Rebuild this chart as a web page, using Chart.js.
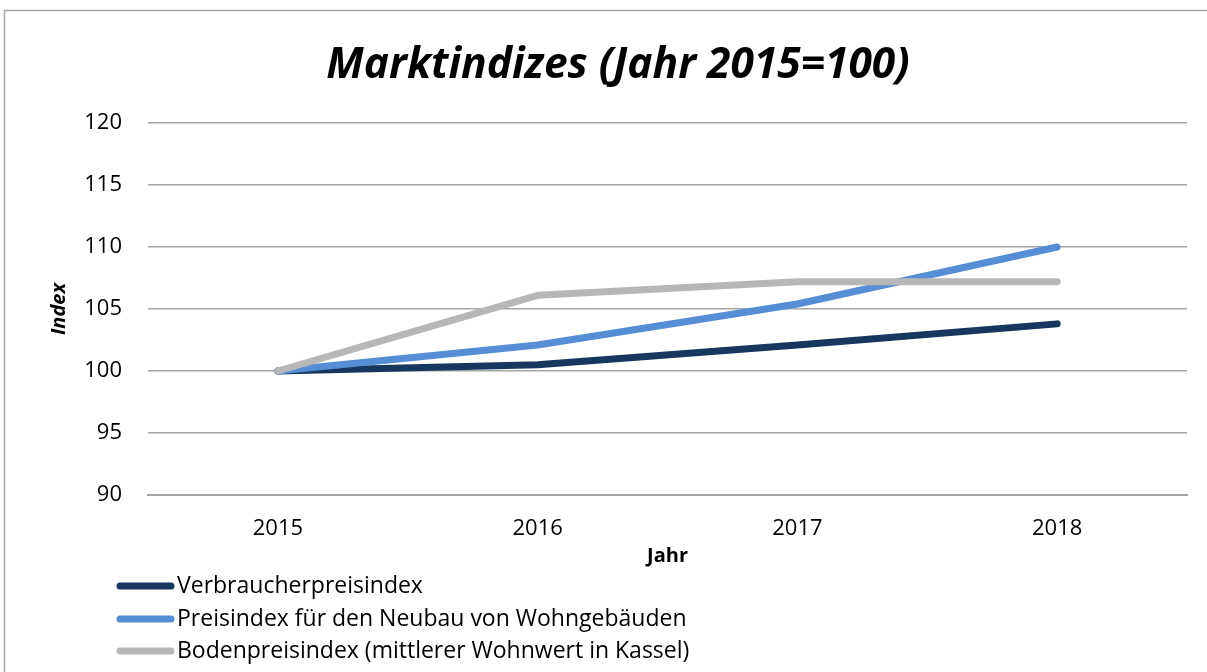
<!DOCTYPE html>
<html>
<head>
<meta charset="utf-8">
<script src="https://cdn.jsdelivr.net/npm/chart.js@4.4.0/dist/chart.umd.min.js"></script>
<style>
  html, body { margin: 0; padding: 0; background: #fff; overflow: hidden; }
  #wrap { position: relative; width: 1207px; height: 672px; }
</style>
</head>
<body>
<div id="wrap"><canvas id="c" width="1207" height="672"></canvas></div>
<script>
const categories = ['2015', '2016', '2017', '2018'];
const seriesNames = [
  'Verbraucherpreisindex',
  'Preisindex für den Neubau von Wohngebäuden',
  'Bodenpreisindex (mittlerer Wohnwert in Kassel)'
];
const verbraucher = [100, 100.5, 102.1, 103.8];
const neubau = [100, 102.1, 105.4, 110.0];
const boden = [100, 106.1, 107.2, 107.2];
const yTicks = [90, 95, 100, 105, 110, 115, 120];
const colors = ['#17375e', '#558ed5', '#b7b7b7'];

const FONT = "'Open Sans', 'Liberation Sans', sans-serif";

const frame = {
  id: 'frame',
  beforeDraw(chart) {
    const ctx = chart.ctx;
    ctx.save();
    ctx.fillStyle = '#fff';
    ctx.fillRect(0, 0, chart.width, chart.height);
    ctx.strokeStyle = '#a6a6a6';
    ctx.lineWidth = 1.5;
    ctx.beginPath();
    ctx.moveTo(4.5, 700);
    ctx.lineTo(4.5, 10.5);
    ctx.lineTo(1210, 10.5);
    ctx.stroke();
    ctx.restore();
  }
};

const rowLegend = {
  id: 'rowLegend',
  afterDraw(chart) {
    const ctx = chart.ctx;
    ctx.save();
    const rows = [586, 619, 651];
    const items = chart.data.datasets.slice().sort((a, b) => a.seriesIndex - b.seriesIndex);
    items.forEach((ds, i) => {
      const y = rows[i];
      ctx.strokeStyle = ds.borderColor;
      ctx.lineWidth = 7;
      ctx.lineCap = 'round';
      ctx.beginPath();
      ctx.moveTo(120, y);
      ctx.lineTo(171, y);
      ctx.stroke();
      ctx.fillStyle = '#000';
      ctx.font = '23px ' + FONT;
      ctx.textBaseline = 'middle';
      ctx.textAlign = 'left';
      ctx.fillText(ds.label, 177, y);
    });
    ctx.restore();
  }
};

const series = [verbraucher, neubau, boden];
const datasets = series.map((vals, i) => ({
  label: seriesNames[i], data: vals, seriesIndex: i,
  borderColor: colors[i], backgroundColor: colors[i],
  borderWidth: 7, pointRadius: 0, pointHoverRadius: 0, tension: 0,
  borderCapStyle: 'round', borderJoinStyle: 'round', fill: false
})).reverse();

new Chart(document.getElementById('c'), {
  type: 'line',
  data: { labels: categories, datasets },
  options: {
    responsive: false,
    animation: false,
    layout: { padding: { left: 49, right: 20, top: 0, bottom: 97 } },
    plugins: {
      legend: { display: false },
      tooltip: { enabled: false },
      title: {
        display: true,
        text: 'Marktindizes (Jahr 2015=100)',
        color: '#000',
        font: { family: FONT, size: 42.5, weight: 'bold', style: 'italic', lineHeight: 1.2 },
        padding: { top: 40, bottom: 32 }
      }
    },
    scales: {
      x: {
        offset: true,
        grid: { display: false, drawTicks: false },
        border: { display: true, color: '#a6a6a6', width: 2 },
        ticks: { color: '#000', padding: 21, font: { family: FONT, size: 22 } },
        title: {
          display: true, text: 'Jahr', color: '#000',
          font: { family: FONT, size: 20, weight: 'bold', lineHeight: 1.2 },
          padding: { top: 0, bottom: 7 }
        },
        afterFit(s) { s.height = 80; }
      },
      y: {
        min: 90, max: 120,
        afterBuildTicks(s) { s.ticks = yTicks.map(v => ({ value: v })); },
        grid: { color: '#a6a6a6', lineWidth: 1.5, drawTicks: false },
        border: { display: false },
        ticks: { color: '#000', padding: 26, font: { family: FONT, size: 22 } },
        title: {
          display: true, text: 'Index', color: '#000',
          font: { family: FONT, size: 20, weight: 'bold', style: 'italic', lineHeight: 1 },
          padding: { top: 0, bottom: 0 }
        },
        afterFit(s) { s.width = 99; }
      }
    }
  },
  plugins: [frame, rowLegend]
});
</script>
</body>
</html>
